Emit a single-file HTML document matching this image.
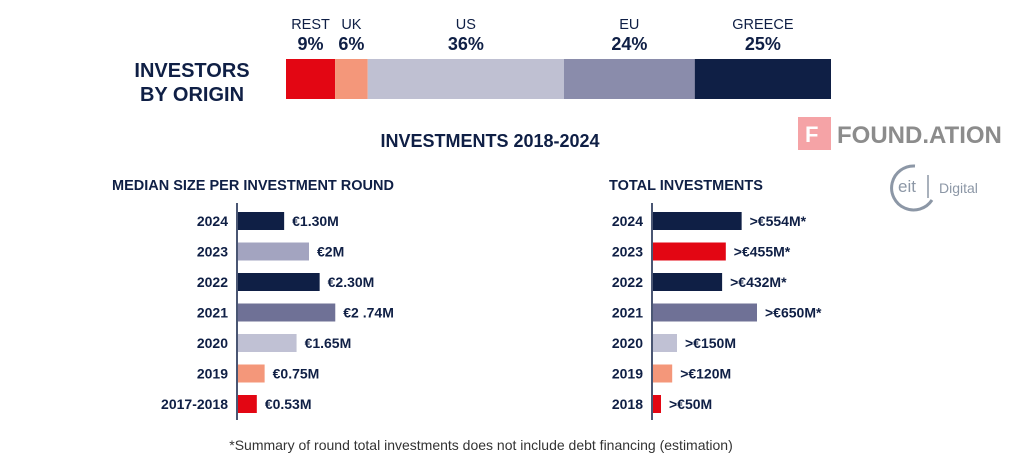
<!DOCTYPE html>
<html><head><meta charset="utf-8"><style>
body{margin:0;background:#fff;}
svg{display:block;font-family:"Liberation Sans",sans-serif;}
</style></head><body>
<svg id="c" width="1026" height="467" viewBox="0 0 1026 467">
<g id="origin"></g>
<text x="192" y="77" text-anchor="middle" font-size="20" font-weight="bold" fill="#0f1f45">INVESTORS</text>
<text x="192" y="101" text-anchor="middle" font-size="20" font-weight="bold" fill="#0f1f45">BY ORIGIN</text>
<text x="490" y="147" text-anchor="middle" font-size="18" font-weight="bold" fill="#0f1f45">INVESTMENTS 2018-2024</text>
<text x="112" y="190" font-size="14.5" font-weight="bold" fill="#0f1f45">MEDIAN SIZE PER INVESTMENT ROUND</text>
<text x="609" y="190" font-size="14.5" font-weight="bold" fill="#0f1f45">TOTAL INVESTMENTS</text>
<g>
<rect x="798" y="117" width="33" height="33" fill="#f5a3a6"/>
<text x="805" y="142" font-size="22" font-weight="bold" fill="#fff">F</text>
<text x="837" y="143" font-size="24" font-weight="bold" fill="#8c8c8c">FOUND.ATION</text>
</g>
<g>
<path d="M915 166 A22 22 0 1 0 932 200" fill="none" stroke="#8c97a6" stroke-width="3"/>
<text x="898" y="192" font-size="17" fill="#8c97a6">eit</text>
<line x1="928" y1="175" x2="928" y2="198" stroke="#8c97a6" stroke-width="1.5"/>
<text x="939" y="193" font-size="14" fill="#8c97a6">Digital</text>
</g>
<g id="median"></g>
<g id="total"></g>
<text x="481" y="450" text-anchor="middle" font-size="14" fill="#333">*Summary of round total investments does not include debt financing (estimation)</text>
</svg>
<script>
const originLabels=["REST","UK","US","EU","GREECE"];
const originValues=[9,6,36,24,25];
const originColors=["#e30613","#f4977a","#bfc0d2","#8a8cab","#0f1f45"];
const medianCats=["2024","2023","2022","2021","2020","2019","2017-2018"];
const medianValues=[1.30,2,2.30,2.74,1.65,0.75,0.53];
const medianLabels=["€1.30M","€2M","€2.30M","€2 .74M","€1.65M","€0.75M","€0.53M"];
const totalCats=["2024","2023","2022","2021","2020","2019","2018"];
const totalValues=[554,455,432,650,150,120,50];
const totalLabels=[">€554M*",">€455M*",">€432M*",">€650M*",">€150M",">€120M",">€50M"];
const rowColors=["#0f1f45","#a3a4c0","#0f1f45","#6f7196","#c0c1d4","#f4977a","#e30613"];
const totalColors=["#0f1f45","#e30613","#0f1f45","#6f7196","#c0c1d4","#f4977a","#e30613"];
const NS="http://www.w3.org/2000/svg";
function mk(p,t,a,txt){const e=document.createElementNS(NS,t);for(const k in a)e.setAttribute(k,a[k]);if(txt!=null)e.textContent=txt;p.appendChild(e);return e;}
const og=document.getElementById('origin');
const ox=286,ow=545,sum=originValues.reduce((a,b)=>a+b,0);
let cx=ox;
originValues.forEach((v,i)=>{
 const w=v/sum*ow;
 const r=mk(og,'rect',{x:cx,y:59,width:w,height:40,fill:originColors[i]});
 
 
 const mid=cx+w/2;
 const l=mk(og,'text',{x:mid,y:29,'text-anchor':'middle','font-size':14.5,fill:'#0f1f45'},originLabels[i]);
 
 
 const p=mk(og,'text',{x:mid,y:50,'text-anchor':'middle','font-size':18,'font-weight':'bold',fill:'#0f1f45'},v+'%');
 
 
 cx+=w;
});
function hbar(gid,x0,cats,vals,labels,colors,pxPerUnit){
 const g=document.getElementById(gid);
 const ax=mk(g,'line',{x1:x0-1,y1:203,x2:x0-1,y2:420,stroke:'#0f1f45','stroke-width':1.5});
 
 
 cats.forEach((c,i)=>{
  const yc=221+i*30.5;
  const w=vals[i]*pxPerUnit;
  const t=mk(g,'text',{x:x0-10,y:yc+5,'text-anchor':'end','font-size':14,'font-weight':'bold',fill:'#0f1f45'},c);
  
  
  const b=mk(g,'rect',{x:x0,y:yc-9,width:w,height:18,fill:colors[i]});
  
  
  const v=mk(g,'text',{x:x0+w+8,y:yc+5,'font-size':14,'font-weight':'bold',fill:'#0f1f45'},labels[i]);
  
  
 });
}
hbar('median',238,medianCats,medianValues,medianLabels,rowColors,35.5);
hbar('total',653,totalCats,totalValues,totalLabels,totalColors,0.16);
</script>
</body></html>
